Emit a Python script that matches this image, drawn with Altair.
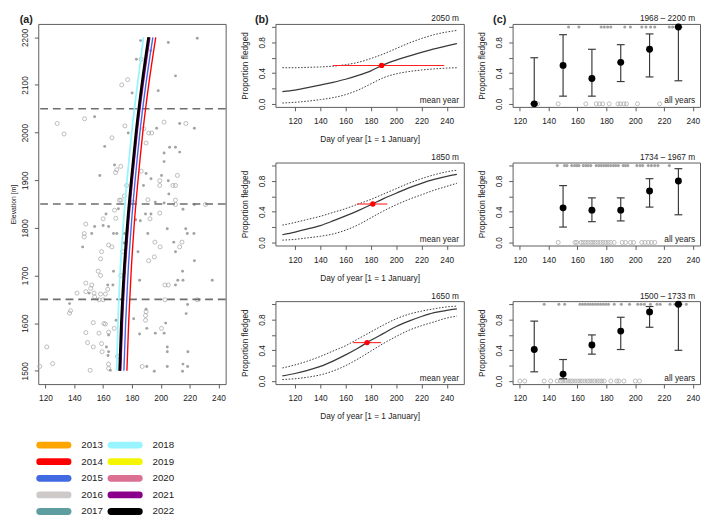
import altair as alt
import pandas as pd

FONT = "Liberation Sans"
TXT = "#222222"
FRAME = "#5a5a5a"
GREY_FILL = "#a3a3a3"
GREY_OPEN = "#ababab"
CURVE = "#3a3a3a"

WA, HA = 192, 369
WB, HB = 193, 85
WC, HC = 192, 85

# ---------------- panel (a) data ----------------
years = ["2013", "2014", "2015", "2016", "2017", "2018", "2019", "2020", "2021", "2022"]
year_colors = ["#FFA500", "#FF0000", "#4169E1", "#CDC9C9", "#5F9EA0",
               "#98F5FF", "#F5F500", "#DB7093", "#8B008B", "#000000"]
elev_levels = [1500, 1600, 1700, 1800, 1900, 2000, 2100, 2200]
day_2013 = [171.8, 173.0, 174.7, 177.0, 179.9, 183.2, 187.2, 191.9]
day_2014 = [176.5, 177.7, 179.3, 181.4, 184.2, 187.5, 191.6, 196.5]
day_2015 = [174.4, 175.6, 177.2, 179.4, 182.2, 185.5, 189.6, 194.5]
day_2016 = [171.9, 173.1, 174.8, 177.1, 180.0, 183.3, 187.3, 192.0]
day_2017 = [171.6, 172.8, 174.5, 176.8, 179.7, 183.0, 187.0, 191.7]
day_2018 = [169.4, 170.3, 171.7, 173.8, 176.6, 179.8, 183.8, 188.0]
day_2019 = [171.7, 172.9, 174.6, 176.9, 179.8, 183.1, 187.1, 191.8]
day_2020 = [172.0, 173.2, 174.9, 177.2, 180.1, 183.4, 187.4, 192.1]
day_2021 = [172.1, 173.3, 175.0, 177.3, 180.2, 183.5, 187.6, 192.3]
day_2022 = [171.4, 172.6, 174.3, 176.6, 179.5, 182.8, 186.8, 191.5]
year_days = [day_2013, day_2014, day_2015, day_2016, day_2017,
             day_2018, day_2019, day_2020, day_2021, day_2022]

filled_pts = [
    (186.0, 2193), (205.2, 2189), (225.3, 2198), (183.1, 2154), (193.0, 2172), (210.2, 2119),
    (180.1, 2083), (198.2, 2088), (154.1, 2033), (177.4, 1999), (197.1, 2009), (213.1, 2019),
    (223.3, 2009),
    (161.1, 1971), (206.1, 1969), (210.2, 1969), (202.3, 1957), (213.1, 1959), (202.3, 1939),
    (167.9, 1932), (157.7, 1910), (189.8, 1914), (200.5, 1910), (193.2, 1903), (205.2, 1899),
    (188.0, 1889), (205.6, 1871), (196.2, 1854), (202.3, 1852), (215.4, 1839), (223.3, 1849),
    (162.0, 1829), (170.6, 1840), (189.4, 1829), (193.2, 1829), (185.8, 1815), (182.6, 1817),
    (154.1, 1803), (160.0, 1805), (163.8, 1803), (152.1, 1788), (167.2, 1788), (169.5, 1788),
    (174.7, 1788), (191.0, 1788), (204.5, 1798), (217.3, 1798), (218.4, 1788), (223.0, 1788),
    (145.8, 1760), (209.0, 1770), (210.2, 1750), (184.2, 1750), (223.3, 1731), (174.7, 1768),
    (150.3, 1663), (163.2, 1680), (166.8, 1680), (167.2, 1709), (185.3, 1690), (189.8, 1629),
    (190.3, 1589), (181.2, 1609), (185.3, 1577), (196.2, 1579), (203.4, 1600), (202.3, 1579),
    (204.5, 1550), (204.5, 1540), (218.8, 1540), (217.6, 1620), (218.6, 1639), (226.6, 1649),
    (210.2, 1680), (211.8, 1690), (215.4, 1690), (215.1, 1709), (235.7, 1690), (136.7, 1641),
    (163.8, 1575), (162.3, 1550), (163.8, 1540), (163.4, 1532), (165.0, 1501), (169.0, 1606),
    (190.3, 1509), (195.5, 1499), (204.5, 1509), (215.4, 1514), (218.6, 1509), (215.1, 1499),
]
open_pts = [
    (186.4, 2154), (177.0, 2111), (172.9, 2100), (128.1, 2019), (132.9, 1997), (147.1, 2029),
    (175.1, 2014), (166.1, 1989), (188.2, 2008), (191.6, 1999), (193.7, 1999), (202.3, 2022),
    (217.4, 2019), (189.8, 1978),
    (172.2, 1929), (169.5, 1922), (168.6, 1916), (186.4, 1919), (211.5, 1910), (199.3, 1899),
    (199.3, 1889), (208.4, 1889), (210.2, 1889), (176.3, 1889), (174.7, 1867), (191.0, 1859),
    (171.3, 1858), (172.4, 1858), (210.2, 1858), (210.2, 1849), (231.0, 1849), (180.8, 1854),
    (167.9, 1837), (160.0, 1819), (168.8, 1820), (199.3, 1831), (192.5, 1819), (148.0, 1808),
    (146.9, 1788), (146.9, 1781), (163.8, 1764), (166.1, 1760), (158.9, 1750), (158.2, 1735),
    (195.9, 1770), (199.5, 1760), (214.7, 1770), (213.1, 1760), (195.5, 1739), (191.6, 1731),
    (173.6, 1750),
    (156.6, 1709), (158.2, 1700), (148.0, 1684), (152.1, 1680), (151.4, 1673), (148.0, 1666),
    (141.9, 1663), (153.7, 1663), (158.2, 1661), (161.6, 1661), (163.2, 1671), (154.1, 1655),
    (160.0, 1649), (157.1, 1649), (172.3, 1700), (189.8, 1624), (189.4, 1616), (189.4, 1606),
    (200.5, 1589), (225.3, 1649), (202.9, 1649), (202.9, 1680), (205.2, 1680), (137.4, 1626),
    (136.7, 1621), (153.2, 1601), (160.5, 1599), (161.6, 1598), (163.8, 1581), (167.7, 1589),
    (157.1, 1579), (148.0, 1580), (149.2, 1559), (153.2, 1550), (158.9, 1557), (159.3, 1540),
    (163.8, 1514), (163.8, 1505), (151.0, 1501), (125.0, 1515), (120.9, 1550), (170.0, 1530),
    (187.1, 1509), (116.0, 1509),
]
dashed_elev = [1650, 1850, 2050]

# ---------------- panel (b) data ----------------
b_days = [110, 120, 130, 140, 150, 160, 170, 180, 190, 200, 210, 220, 230, 240, 248]
b1_mean = [0.16, 0.18, 0.21, 0.245, 0.28, 0.32, 0.37, 0.43, 0.51, 0.57, 0.62, 0.67, 0.715, 0.755, 0.785]
b1_upper = [0.47, 0.47, 0.475, 0.48, 0.49, 0.51, 0.54, 0.59, 0.65, 0.72, 0.79, 0.85, 0.90, 0.935, 0.955]
b1_lower = [0.01, 0.02, 0.035, 0.055, 0.08, 0.12, 0.18, 0.26, 0.34, 0.39, 0.42, 0.44, 0.455, 0.465, 0.47]
b2_mean = [0.10, 0.135, 0.175, 0.22, 0.28, 0.345, 0.415, 0.49, 0.57, 0.64, 0.71, 0.77, 0.82, 0.86, 0.885]
b2_upper = [0.225, 0.26, 0.30, 0.34, 0.39, 0.44, 0.50, 0.56, 0.63, 0.70, 0.77, 0.83, 0.88, 0.92, 0.94]
b2_lower = [0.03, 0.04, 0.06, 0.08, 0.11, 0.16, 0.23, 0.32, 0.41, 0.49, 0.56, 0.62, 0.68, 0.73, 0.77]
b3_mean = [0.068, 0.098, 0.14, 0.19, 0.26, 0.34, 0.43, 0.53, 0.62, 0.71, 0.78, 0.84, 0.89, 0.92, 0.94]
b3_upper = [0.17, 0.21, 0.26, 0.32, 0.39, 0.46, 0.55, 0.64, 0.73, 0.81, 0.87, 0.91, 0.94, 0.965, 0.975]
b3_lower = [0.02, 0.03, 0.05, 0.08, 0.13, 0.20, 0.29, 0.39, 0.49, 0.58, 0.66, 0.72, 0.77, 0.82, 0.845]
b_red_day = [188.5, 181.5, 177.0]
b_red_lo = [150.0, 169.0, 166.0]
b_red_hi = [238.0, 193.0, 188.0]
b_labels = ["2050 m", "1850 m", "1650 m"]

# ---------------- panel (c) data ----------------
c1_bins = [130, 150, 170, 190, 210, 230]
c1_p = [0.0, 0.5, 0.33, 0.54, 0.71, 1.0]
c1_lo = [0.0, 0.1, 0.1, 0.29, 0.35, 0.3]
c1_hi = [0.6, 0.9, 0.71, 0.77, 0.91, 1.0]
c1_ones = [153.8, 161, 176.4, 178.6, 180.9, 183.1, 192.8, 196.7, 204.6, 207.5, 210.7, 213.6, 223.7, 226]
c1_zeros = [132.4, 146.6, 165.8, 173, 175.3, 177.5, 182, 188.1, 189.8, 192.2, 194, 201.6, 217]

c2_bins = [150, 170, 190, 210, 230]
c2_p = [0.45, 0.42, 0.42, 0.67, 0.8]
c2_lo = [0.2, 0.27, 0.28, 0.46, 0.36]
c2_hi = [0.74, 0.58, 0.58, 0.83, 0.96]
c2_ones = [146, 151, 152.7, 156, 158, 159.5, 161, 164, 165.8, 167.4, 169.2, 173, 174.8, 176.4,
           178.2, 179.8, 181.3, 183.1, 185, 186.5, 188.3, 191.7, 193.3, 194.9, 201.2, 203.4,
           205.2, 209.1, 211.3, 213.6, 215.8, 223.7]
c2_zeros = [146.6, 158.3, 159.5, 162.5, 164, 165.6, 167.4, 169.2, 170.7, 172.3, 174.1, 175.9,
            177.7, 179.5, 181.3, 183.1, 185.4, 191, 193.3, 196.7, 198.9, 204.6, 206.8, 209.1,
            211.3, 213.6]

c3_bins = [130, 150, 170, 190, 210, 230]
c3_p = [0.41, 0.09, 0.47, 0.65, 0.9, 1.0]
c3_lo = [0.12, 0.03, 0.35, 0.41, 0.7, 0.4]
c3_hi = [0.78, 0.28, 0.6, 0.83, 0.97, 1.0]
c3_ones = [136.9, 147.1, 151.1, 161.7, 163.5, 165.3, 167.1, 168.9, 170.7, 172.5, 174.3, 176.1,
           177.9, 179.7, 181.5, 185.5, 190.4, 196.1, 201.8, 204.1, 206.4, 210.6, 215.2, 217.4,
           224.2, 227.6, 231.5, 235.5]
c3_zeros = [120, 123.4, 136.9, 141.4, 145.9, 148.2, 149.8, 151.6, 153.4, 155, 156.5, 158.3,
            160.1, 161.7, 163.3, 165.1, 166.9, 168.5, 170.1, 171.9, 173.7, 175.3, 176.9, 178.6,
            183.1, 187.2, 188.7, 192.2, 200.1, 203.0]
c_labels = ["1968 \u2013 2200 m", "1734 \u2013 1967 m", "1500 \u2013 1733 m"]


def text_layer(txt, x, y, size=8.5, bold=False, align="right"):
    return alt.Chart(pd.DataFrame({"t": [txt]})).mark_text(
        align=align, baseline="alphabetic", font=FONT, fontSize=size,
        fontWeight="bold" if bold else "normal", color=TXT
    ).encode(x=alt.value(x), y=alt.value(y), text="t:N")


# ---------------- panel (a) ----------------
xa_scale = alt.Scale(domain=[115, 245], nice=False, zero=False)
ya_scale = alt.Scale(domain=[1472, 2228], nice=False, zero=False)
xa_axis = alt.Axis(values=list(range(120, 241, 20)), title=None)
ya_axis = alt.Axis(values=elev_levels, format="d", title="Elevation [m]", titleFontSize=7, titlePadding=4.5)


def XA(f):
    return alt.X(f, type="quantitative", scale=xa_scale, axis=xa_axis)


def YA(f):
    return alt.Y(f, type="quantitative", scale=ya_scale, axis=ya_axis)


open_df = pd.DataFrame(open_pts, columns=["day", "elev"])
filled_df = pd.DataFrame(filled_pts, columns=["day", "elev"])
a_layers = [
    alt.Chart(open_df).mark_point(shape="circle", filled=False, size=17, strokeWidth=0.8,
                                  color=GREY_OPEN, opacity=1).encode(x=XA("day"), y=YA("elev")),
    alt.Chart(filled_df).mark_circle(size=9, color=GREY_FILL, opacity=1).encode(x=XA("day"), y=YA("elev")),
    alt.Chart(pd.DataFrame({"elev": dashed_elev})).mark_rule(
        color="#6e6e6e", strokeWidth=1.7, strokeDash=[8, 5]).encode(y=YA("elev")),
]
line_rows = []
for yr, days in zip(years, year_days):
    for e, d in zip(elev_levels, days):
        line_rows.append({"year": yr, "elev": e, "day": d})
lines_df = pd.DataFrame(line_rows)
color_of = dict(zip(years, year_colors))
draw_order = ["2013", "2016", "2017", "2019", "2020", "2014", "2015", "2018", "2021", "2022"]
width_of = {"2022": 2.6, "2021": 1.8, "2018": 1.8}
for yr in draw_order:
    a_layers.append(
        alt.Chart(lines_df).transform_filter(alt.datum.year == yr).mark_line(
            color=color_of[yr], strokeWidth=width_of.get(yr, 1.4), interpolate="monotone"
        ).encode(x=XA("day"), y=YA("elev"), order=alt.Order("elev:Q"))
    )
a_layers.append(text_layer("(a)", -19, -0.5, size=11, bold=True, align="left"))
panel_a = alt.layer(*a_layers).properties(width=WA, height=HA)

# legend below (a)
leg_df = pd.DataFrame({"year": years, "i": list(range(len(years)))})
leg_base = alt.Chart(leg_df).transform_calculate(
    row="datum.i % 5",
    x0="1.5 + 73 * floor(datum.i / 5)",
    x1="30.5 + 73 * floor(datum.i / 5)",
    xt="44 + 73 * floor(datum.i / 5)",
)
lx = alt.Scale(domain=[0, WA], nice=False, zero=False)
ly = alt.Scale(domain=[-0.5, 4.3], nice=False, zero=False, reverse=True)
leg_bars = leg_base.mark_rule(strokeWidth=7, strokeCap="round").encode(
    x=alt.X("x0:Q", scale=lx, axis=None), x2="x1:Q",
    y=alt.Y("row:Q", scale=ly, axis=None),
    color=alt.Color("year:N", scale=alt.Scale(domain=years, range=year_colors), legend=None),
)
leg_text = leg_base.mark_text(align="left", baseline="middle", font=FONT, fontSize=10, color=TXT).encode(
    x=alt.X("xt:Q", scale=lx, axis=None), y=alt.Y("row:Q", scale=ly, axis=None), text="year:N"
)
legend = alt.layer(leg_bars, leg_text).properties(
    width=WA, height=81.6, view=alt.ViewBackground(stroke="transparent"))

col_a = alt.vconcat(panel_a, legend, spacing=54, bounds="flush")

# ---------------- panel (b) ----------------
p_values = [0, 0.2, 0.4, 0.6, 0.8, 1.0]
p_label_expr = ("(abs(datum.value) < 0.001 || abs(datum.value - 0.4) < 0.001 || "
                "abs(datum.value - 0.8) < 0.001) ? format(datum.value, '.1f') : ''")
p_scale = alt.Scale(domain=[-0.04, 1.04], nice=False, zero=False)


def panel_b(mean, upper, lower, rday, rlo, rhi, label, first):
    df = pd.DataFrame({"day": b_days, "mean": mean, "upper": upper, "lower": lower})
    red = pd.DataFrame({"day": [rday], "p": [0.5], "lo": [rlo], "hi": [rhi]})
    xs = alt.Scale(domain=[104.5, 253.5], nice=False, zero=False)
    xax = alt.Axis(values=list(range(120, 241, 20)), title="Day of year [1 = 1 January]", titlePadding=10)
    yax = alt.Axis(values=p_values, labelExpr=p_label_expr, title="Proportion fledged", titlePadding=9)

    def X(f):
        return alt.X(f, type="quantitative", scale=xs, axis=xax)

    def Y(f):
        return alt.Y(f, type="quantitative", scale=p_scale, axis=yax)

    base = alt.Chart(df)
    layers = [
        base.mark_line(color=CURVE, strokeWidth=1, strokeDash=[1.6, 1.6], interpolate="monotone").encode(
            x=X("day"), y=Y("lower")),
        base.mark_line(color=CURVE, strokeWidth=1, strokeDash=[1.6, 1.6], interpolate="monotone").encode(
            x=X("day"), y=Y("upper")),
        base.mark_line(color=CURVE, strokeWidth=1.3, interpolate="monotone").encode(x=X("day"), y=Y("mean")),
        alt.Chart(red).mark_rule(color="#ff2020", strokeWidth=1.1).encode(x=X("lo"), x2="hi:Q", y=Y("p")),
        alt.Chart(red).mark_circle(color="#ff0000", size=30, opacity=1).encode(x=X("day"), y=Y("p")),
        text_layer(label, WB - 5, -2.5),
        text_layer("mean year", WB - 5, HB - 3.5),
    ]
    if first:
        layers.append(text_layer("(b)", -21, -0.5, size=11, bold=True, align="left"))
    return alt.layer(*layers).properties(width=WB, height=HB)


col_b = alt.vconcat(
    panel_b(b1_mean, b1_upper, b1_lower, b_red_day[0], b_red_lo[0], b_red_hi[0], b_labels[0], True),
    panel_b(b2_mean, b2_upper, b2_lower, b_red_day[1], b_red_lo[1], b_red_hi[1], b_labels[1], False),
    panel_b(b3_mean, b3_upper, b3_lower, b_red_day[2], b_red_lo[2], b_red_hi[2], b_labels[2], False),
    spacing=57, bounds="flush",
)

# ---------------- panel (c) ----------------


def panel_c(bins, p, lo, hi, ones, zeros, label, first):
    est = pd.DataFrame({"day": bins, "p": p, "lo": lo, "hi": hi})
    obs1 = pd.DataFrame({"day": ones, "y": [1.0] * len(ones)})
    obs0 = pd.DataFrame({"day": zeros, "y": [0.0] * len(zeros)})
    xs = alt.Scale(domain=[115, 245], nice=False, zero=False)
    xax = alt.Axis(values=list(range(120, 241, 20)), title=None)
    yax = alt.Axis(values=p_values, labelExpr=p_label_expr, title="Proportion fledged", titlePadding=9)

    def X(f):
        return alt.X(f, type="quantitative", scale=xs, axis=xax)

    def Y(f):
        return alt.Y(f, type="quantitative", scale=p_scale, axis=yax)

    layers = [
        alt.Chart(obs0).mark_point(shape="circle", filled=False, size=17, strokeWidth=0.8,
                                   color=GREY_OPEN, opacity=1).encode(x=X("day"), y=Y("y")),
        alt.Chart(obs1).mark_circle(size=10, color=GREY_FILL, opacity=1).encode(x=X("day"), y=Y("y")),
        alt.Chart(est).mark_rule(color=CURVE, strokeWidth=1.2).encode(x=X("day"), y=Y("lo"), y2="hi:Q"),
        alt.Chart(est).mark_tick(orient="horizontal", size=8, thickness=1.2, color=CURVE, opacity=1).encode(
            x=X("day"), y=Y("lo")),
        alt.Chart(est).mark_tick(orient="horizontal", size=8, thickness=1.2, color=CURVE, opacity=1).encode(
            x=X("day"), y=Y("hi")),
        alt.Chart(est).mark_circle(color="#000000", size=50, opacity=1).encode(x=X("day"), y=Y("p")),
        text_layer(label, WC - 5, -2.5),
        text_layer("all years", WC - 5, HC - 3.5),
    ]
    if first:
        layers.append(text_layer("(c)", -20, -0.5, size=11, bold=True, align="left"))
    return alt.layer(*layers).properties(width=WC, height=HC)


col_c = alt.vconcat(
    panel_c(c1_bins, c1_p, c1_lo, c1_hi, c1_ones, c1_zeros, c_labels[0], True),
    panel_c(c2_bins, c2_p, c2_lo, c2_hi, c2_ones, c2_zeros, c_labels[1], False),
    panel_c(c3_bins, c3_p, c3_lo, c3_hi, c3_ones, c3_zeros, c_labels[2], False),
    spacing=57, bounds="flush",
)

chart = alt.hconcat(col_a, col_b, col_c, spacing=12).properties(
    padding={"left": 0, "right": 0, "top": 0, "bottom": 0}
).configure_view(
    stroke=FRAME, strokeWidth=1
).configure_axis(
    domain=False, grid=False, ticks=True, tickColor=FRAME, tickSize=4, tickWidth=1,
    labelFont=FONT, labelFontSize=8.5, labelColor=TXT, labelPadding=6,
    labelFlush=False, labelOverlap=False, labelBound=False,
    titleFont=FONT, titleFontSize=8.5, titleFontWeight="normal", titleColor=TXT,
).configure_axisY(
    labelAngle=270, labelAlign="center", labelBaseline="bottom", labelPadding=5,
)

chart.save("out.html", embed_options={"renderer": "svg", "actions": False})
